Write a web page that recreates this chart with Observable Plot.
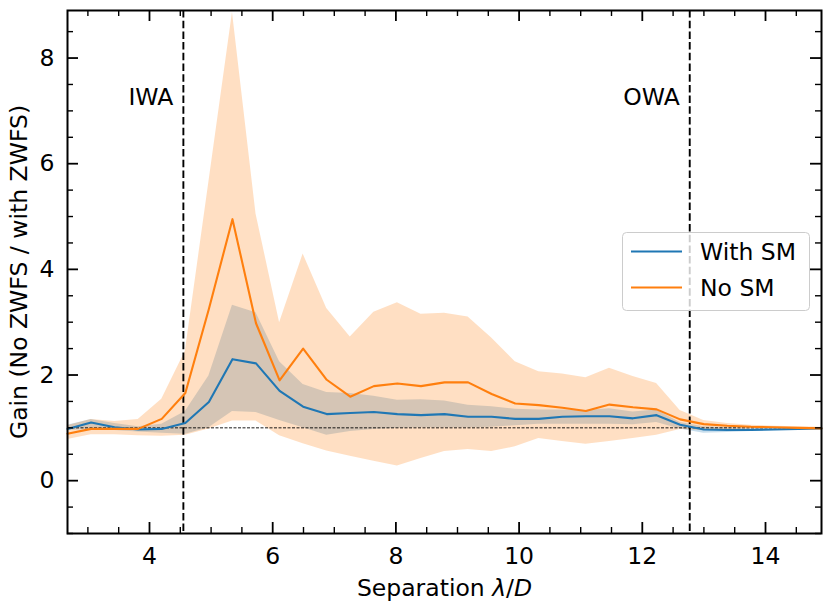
<!DOCTYPE html>
<html>
<head>
<meta charset="utf-8">
<script src="https://cdn.jsdelivr.net/npm/d3@7"></script>
<script src="https://cdn.jsdelivr.net/npm/@observablehq/plot@0.6"></script>
<style>
  html, body { margin: 0; padding: 0; background: #fff; }
  #wrap { position: relative; width: 831px; height: 610px; font-family: "DejaVu Sans", sans-serif; }
  #legend { position: absolute; left: 622px; top: 232px; }
</style>
</head>
<body>
<div id="wrap"></div>
<script>
// Separation in lambda/D
const separation = [2.669, 3.052, 3.434, 3.817, 4.199, 4.582, 4.964, 5.347, 5.729, 6.112,
  6.494, 6.877, 7.259, 7.642, 8.024, 8.407, 8.789, 9.172, 9.554, 9.937,
  10.319, 10.702, 11.084, 11.467, 11.849, 12.232, 12.614, 12.997, 13.379, 13.762,
  14.144, 14.527, 14.909];
// With SM: median gain and band
const withSM = [0.98, 1.10, 1.01, 0.97, 0.98, 1.09, 1.49, 2.30, 2.22, 1.70,
  1.40, 1.26, 1.28, 1.30, 1.26, 1.24, 1.26, 1.21, 1.21, 1.17,
  1.17, 1.21, 1.22, 1.22, 1.18, 1.24, 1.06, 0.97, 0.96, 0.96,
  0.97, 0.98, 0.99];
const withSMLow = [0.95, 0.97, 0.95, 0.92, 0.90, 0.88, 1.00, 1.31, 1.29, 1.14,
  1.00, 0.86, 0.93, 0.97, 0.99, 1.00, 1.00, 1.00, 1.01, 1.04,
  1.07, 1.07, 1.07, 1.07, 1.06, 1.10, 0.98, 0.90, 0.91, 0.93,
  0.95, 0.97, 0.98];
const withSMHigh = [1.05, 1.16, 1.08, 1.02, 1.07, 1.31, 1.98, 3.32, 3.18, 2.25,
  1.82, 1.67, 1.65, 1.60, 1.52, 1.53, 1.51, 1.43, 1.40, 1.35,
  1.34, 1.34, 1.33, 1.36, 1.30, 1.34, 1.10, 1.02, 1.00, 0.99,
  0.99, 1.00, 1.00];
// No SM: median gain and band
const noSM = [0.89, 0.98, 0.98, 0.98, 1.17, 1.66, 3.25, 4.95, 2.98, 1.90,
  2.50, 1.91, 1.59, 1.79, 1.84, 1.79, 1.86, 1.86, 1.64, 1.46,
  1.43, 1.38, 1.32, 1.44, 1.39, 1.35, 1.16, 1.07, 1.04, 1.02,
  1.01, 1.00, 0.99];
const noSMLow = [0.78, 0.87, 0.87, 0.85, 0.84, 0.86, 0.98, 1.13, 1.13, 0.85,
  0.70, 0.56, 0.46, 0.37, 0.28, 0.42, 0.55, 0.59, 0.55, 0.64,
  0.80, 0.74, 0.69, 0.74, 0.80, 0.86, 0.97, 0.95, 0.97, 0.98,
  0.99, 0.99, 0.99];
const noSMHigh = [1.04, 1.16, 1.12, 1.16, 1.54, 2.45, 5.65, 8.86, 5.05, 2.99,
  4.29, 3.26, 2.72, 3.19, 3.37, 3.15, 3.17, 3.10, 2.70, 2.25,
  2.06, 2.02, 1.95, 2.13, 1.97, 1.84, 1.33, 1.14, 1.08, 1.05,
  1.03, 1.02, 1.01];

const iwaOwa = [{x: 4.55, label: "IWA"}, {x: 12.77, label: "OWA"}];
const xTicks = [4, 6, 8, 10, 12, 14];
const yTicks = [0, 2, 4, 6, 8];
const xMinor = d3.range(3, 15, 0.5).filter(v => !xTicks.includes(v));
const yMinor = d3.range(-1, 9, 0.5).filter(v => !yTicks.includes(v));
const xDomain = [2.669, 14.909];
const yDomain = [-1.0, 8.9];

const data = separation.map((x, i) => ({
  x, w: withSM[i], wl: withSMLow[i], wh: withSMHigh[i],
  n: noSM[i], nl: noSMLow[i], nh: noSMHigh[i]
}));

const W = 831, H = 610, mL = 67, mR = 10, mT = 10, mB = 77;
const fw = W - mL - mR, fh = H - mT - mB;
const blue = "#1f77b4", orange = "#ff7f0e";
const FS = 23.5;

const plot = Plot.plot({
  width: W, height: H,
  marginLeft: mL, marginRight: mR, marginTop: mT, marginBottom: mB,
  style: {fontFamily: "DejaVu Sans", fontSize: FS + "px", color: "black", background: "white", overflow: "visible"},
  x: {domain: xDomain},
  y: {domain: yDomain},
  marks: [
    Plot.areaY(data, {x: "x", y1: "wl", y2: "wh", fill: blue, fillOpacity: 0.25}),
    Plot.areaY(data, {x: "x", y1: "nl", y2: "nh", fill: orange, fillOpacity: 0.25}),
    Plot.ruleY([1], {stroke: "black", strokeWidth: 0.9, strokeDasharray: "3,1.5"}),
    Plot.ruleX(iwaOwa, {x: "x", stroke: "black", strokeWidth: 1.9, strokeDasharray: "7.5,3.2"}),
    Plot.lineY(data, {x: "x", y: "w", stroke: blue, strokeWidth: 2.1}),
    Plot.lineY(data, {x: "x", y: "n", stroke: orange, strokeWidth: 2.1}),
    Plot.text(iwaOwa, {x: "x", text: "label", frameAnchor: "top", lineAnchor: "bottom", dy: 94, dx: -10, textAnchor: "end", fill: "black"}),
    // inward ticks on all four sides
    Plot.tickX(xTicks, {x: d => d, stroke: "black", strokeWidth: 1.8, insetTop: fh - 11}),
    Plot.tickX(xTicks, {x: d => d, stroke: "black", strokeWidth: 1.8, insetBottom: fh - 11}),
    Plot.tickX(xMinor, {x: d => d, stroke: "black", strokeWidth: 1.4, insetTop: fh - 6}),
    Plot.tickX(xMinor, {x: d => d, stroke: "black", strokeWidth: 1.4, insetBottom: fh - 6}),
    Plot.tickY(yTicks, {y: d => d, stroke: "black", strokeWidth: 1.8, insetRight: fw - 11}),
    Plot.tickY(yTicks, {y: d => d, stroke: "black", strokeWidth: 1.8, insetLeft: fw - 11}),
    Plot.tickY(yMinor, {y: d => d, stroke: "black", strokeWidth: 1.4, insetRight: fw - 6}),
    Plot.tickY(yMinor, {y: d => d, stroke: "black", strokeWidth: 1.4, insetLeft: fw - 6}),
    Plot.frame({stroke: "black", strokeWidth: 2}),
    Plot.axisX({ticks: xTicks, tickSize: 0, tickPadding: 14, label: "Separation λ/D", labelAnchor: "center", labelArrow: "none", labelOffset: 62}),
    Plot.axisY({ticks: yTicks, tickSize: 0, tickPadding: 13, label: "Gain (No ZWFS / with ZWFS)", labelAnchor: "center", labelArrow: "none", labelOffset: 57})
  ]
});

// italic lambda/D as in the reference
plot.querySelectorAll("text").forEach(t => {
  if (t.textContent === "Separation λ/D") {
    const target = t.querySelector("tspan") || t;
    target.innerHTML = 'Separation <tspan font-style="italic">λ</tspan>/<tspan font-style="italic">D</tspan>';
  }
});

const wrap = document.getElementById("wrap");
wrap.appendChild(plot);

// legend (overlay inside the axes, like matplotlib's)
const legendItems = [{label: "With SM", color: blue}, {label: "No SM", color: orange}];
const lg = d3.create("svg").attr("id", "legend").attr("width", 189).attr("height", 81)
  .style("font-family", "DejaVu Sans").style("font-size", FS + "px");
lg.append("rect").attr("x", 0.5).attr("y", 0.5).attr("width", 187).attr("height", 78).attr("rx", 4)
  .attr("fill", "white").attr("fill-opacity", 0.8).attr("stroke", "#cccccc").attr("stroke-width", 1);
legendItems.forEach((d, i) => {
  const cy = 19.5 + i * 36;
  lg.append("line").attr("x1", 9).attr("x2", 60).attr("y1", cy).attr("y2", cy)
    .attr("stroke", d.color).attr("stroke-width", 2.1);
  lg.append("text").attr("x", 78).attr("y", cy + 8).attr("fill", "black").text(d.label);
});
wrap.appendChild(lg.node());
</script>
</body>
</html>
